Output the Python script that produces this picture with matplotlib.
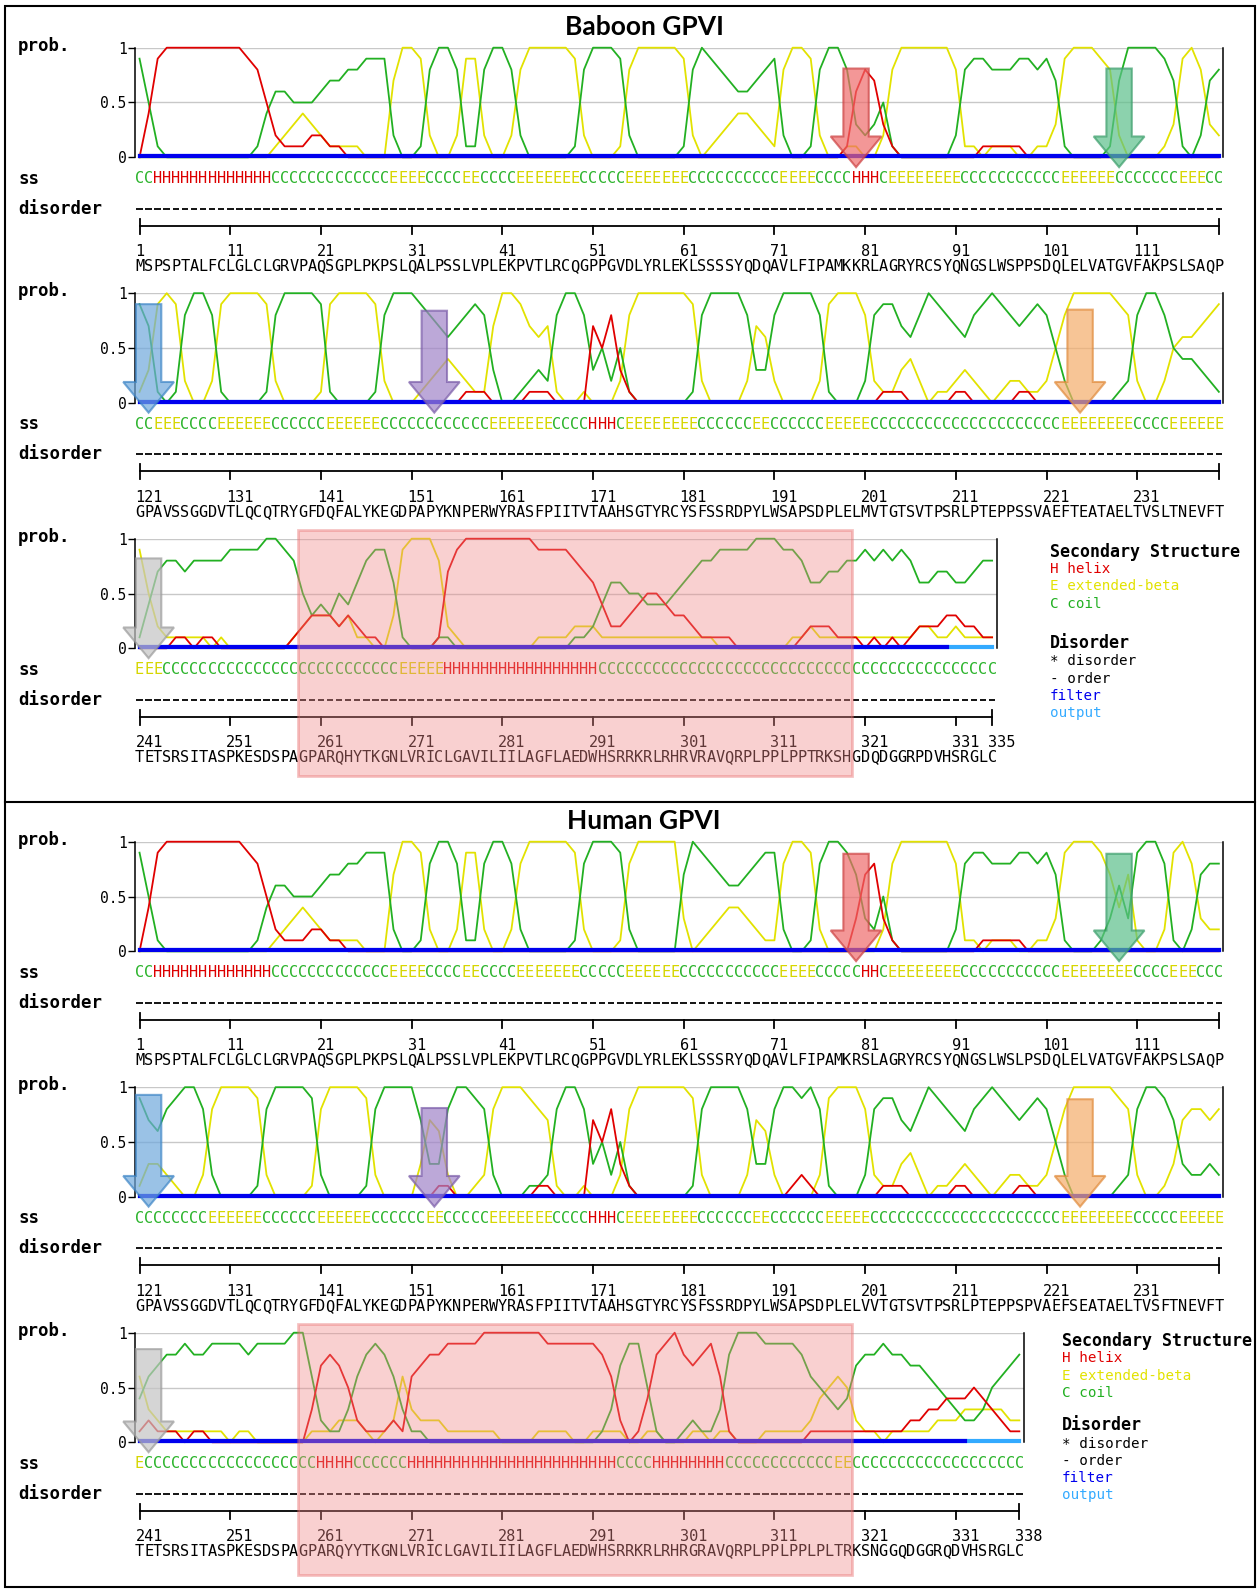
import re

import matplotlib.pyplot as plt
import numpy as np
from matplotlib import transforms
from matplotlib.collections import LineCollection
from matplotlib.patches import FancyArrow, Rectangle

W, H = 1260, 1591

# ---------------- data ----------------
row_first = [1, 121, 241]

baboon_seq = [
    "MSPSPTALFCLGLCLGRVPAQSGPLPKPSLQALPSSLVPLEKPVTLRCQGPPGVDLYRLEKLSSSSYQDQAVLFIPAMKKRLAGRYRCSYQNGSLWSPPSDQLELVATGVFAKPSLSAQP",
    "GPAVSSGGDVTLQCQTRYGFDQFALYKEGDPAPYKNPERWYRASFPIITVTAAHSGTYRCYSFSSRDPYLWSAPSDPLELMVTGTSVTPSRLPTEPPSSVAEFTEATAELTVSLTNEVFT",
    "TETSRSITASPKESDSPAGPARQHYTKGNLVRICLGAVILIILAGFLAEDWHSRRKRLRHRVRAVQRPLPPLPPTRKSHGDQDGGRPDVHSRGLC",
]
human_seq = [
    "MSPSPTALFCLGLCLGRVPAQSGPLPKPSLQALPSSLVPLEKPVTLRCQGPPGVDLYRLEKLSSSRYQDQAVLFIPAMKRSLAGRYRCSYQNGSLWSLPSDQLELVATGVFAKPSLSAQP",
    "GPAVSSGGDVTLQCQTRYGFDQFALYKEGDPAPYKNPERWYRASFPIITVTAAHSGTYRCYSFSSRDPYLWSAPSDPLELVVTGTSVTPSRLPTEPPSPVAEFSEATAELTVSFTNEVFT",
    "TETSRSITASPKESDSPAGPARQYYTKGNLVRICLGAVILIILAGFLAEDWHSRRKRLRHRGRAVQRPLPPLPPLPLTRKSNGGQDGGRQDVHSRGLC",
]

# secondary structure, run-length coded
baboon_ss = [
    "2C13H13C4E4C2E4C7E5C7E10C4E4C3H1C8E11C6E7C3E2C",
    "2C3E4C6E6C6E12C7E4C3H1C8E6C2E6C5E21C8E4C6E",
    "3E26C5E17H44C",
]
human_ss = [
    "2C13H13C4E4C2E4C7E5C6E11C4E5C2H1C8E11C8E4C3E3C",
    "8C6E6C6E6C2E5C7E4C3H1C8E6C2E6C5E21C8E5C5E",
    "1E19C4H6C23H4C8H12C2E19C",
]

# probabilities per residue in tenths (X = 1.0)
baboon_coil = [
    "9510000000 0001466555 6778899920 018XX8118X X820000018 XXX9200000 18X9876678 920018XX83 2351000000 2899888998 971000017X XXX9710278",
    "971018XX81 000018XXXX 91000018XX X987678983 0012328XX8 3525100000 018XXXX833 8XXXX81000 2899768X98 7689X98789 8520000012 8XX8544321",
    "1478878888 9999XX9853 4354689961 0001100000 0000000011 2466554445 67889999XX X998667788 9898986677 66788",
]
baboon_beta = [
    "0000000000 0000012343 211110007X X920029920 028XXXXX92 00018XXXXX 9201234432 18XX920011 0028XXXXXX 8110111001 139XXX9820 000139X832",
    "139X920029 XXXX920000 19XXXX9200 0123432117 XX97671001 00028XXXXX X920000276 2000029XXX 8211342011 2321012211 258XXXXX98 2002566789",
    "9521111101 0000000123 3323110039 XXX8210000 0000111122 2111111111 1111000000 0011211111 1111112211 21111",
]
baboon_helix = [
    "049XXXXXXX XX98521112 2110000000 0000000000 0000000000 0000000000 0000000000 0000000016 8731000000 0001111100 0000000000 0000000000",
    "0000000000 0000000000 0000000000 0000001110 0001110000 7583100000 0000000000 0000000000 0011100000 1100000110 0000000000 0000000000",
    "0000110110 0000000123 3323211000 000179XXXX XXXX999987 6422345543 3211110000 0001222111 0101012223 32211",
]
human_coil = [
    "9510000000 0001466555 6778899920 018XX8118X X820000018 XXX9200000 7X98766789 920018XX97 3251000000 2899888998 9710001363 9XX8102788",
    "97689XX820 00018XXXX9 2000018XXX X7338XX982 0001128XX8 3525100000 018XXXX833 8XX9X81000 2899768X98 7689X98789 8520000012 8XX9732232",
    "4678898899 9989999XX6 2113689863 1100000000 0000000000 0137995100 121138XXX9 9998654347 8898877654 32235678",
]
human_beta = [
    "0000000000 0000012343 211110007X X920029920 028XXXXX92 00018XXXXX 3012344321 18XX920000 0028XXXXXX 8110111001 139XXX9747 10029X8322",
    "133210028X XXX9200001 8XXXX92000 0376200128 XXX9871001 00028XXXXX X920000276 2000029XXX 8211342011 2321012211 258XXXXX98 2001378878",
    "6321111111 0110000001 1122210126 3222111111 0000111100 1111001100 0110110001 1111245652 1101111122 23333322",
]
human_helix = [
    "049XXXXXXX XX98521112 2110000000 0000000000 0000000000 0000000000 0000000000 0000000003 7831000000 0001111100 0000000000 0000000000",
    "0000000000 0000000000 0000000000 0001100000 0000110000 7583100000 0000000000 0012100000 0011100000 1100000110 0000000000 0000000000",
    "1211101100 0000000003 7875211121 67889999XX XXXXX99999 986201489X 8789610000 0000111111 1111122334 44543211",
]

# disorder curves in hundredths ("." = not drawn)
baboon_filter = [
    "1111111111 1111111111 1111111111 1111111111 1111111111 1111111111 1111111111 1111111111 1111111111 1111111111 1111111111 1111111111",
    "1111111111 1111111111 1111111111 1111111111 1111111111 1111111111 1111111111 1111111111 1111111111 1111111111 1111111111 1111111111",
    "1111111111 1111111111 1111111111 1111111111 1111111111 1111111111 1111111111 1111111111 1111111111 .....",
]
baboon_output = [
    "1111111111 1111111111 1111111111 1111111111 1111111111 1111111111 1111111111 1111111111 1111111111 1111111111 1111111111 1111111111",
    "1111111111 1111111111 1111111111 1111111111 1111111111 1111111111 1111111111 1111111111 1111111111 1111111111 1111111111 1111111111",
    "1111111111 1111111111 1111111111 1111111111 1111111111 1111111111 1111111111 1111111111 1111111111 11111",
]
human_filter = [
    "1111111111 1111111111 1111111111 1111111111 1111111111 1111111111 1111111111 1111111111 1111111111 1111111111 1111111111 1111111111",
    "1111111111 1111111111 1111111111 1111111111 1111111111 1111111111 1111111111 1111111111 1111111111 1111111111 1111111111 1111111111",
    "1111111111 1111111111 1111111111 1111111111 1111111111 1111111111 1111111111 1111111111 1111111111 11......",
]
human_output = [
    "1111111111 1111111111 1111111111 1111111111 1111111111 1111111111 1111111111 1111111111 1111111111 1111111111 1111111111 1111111111",
    "1111111111 1111111111 1111111111 1111111111 1111111111 1111111111 1111111111 1111111111 1111111111 1111111111 1111111111 1111111111",
    "1111111111 1111111111 1111111111 1111111111 1111111111 1111111111 1111111111 1111111111 1111111111 11111111",
]

# highlight arrows: (residue, top of arrow in prob units, colour key)
baboon_arrows = [
    [(80, 0.81, "red"), (109, 0.81, "green")],
    [(122, 0.90, "blue"), (153.5, 0.84, "purple"), (224.7, 0.85, "orange")],
    [(242, 0.82, "gray")],
]
human_arrows = [
    [(80, 0.89, "red"), (109, 0.89, "green")],
    [(122, 0.93, "blue"), (153.5, 0.81, "purple"), (224.7, 0.89, "orange")],
    [(242, 0.85, "gray")],
]
box_residues = (258.5, 319.6)

legend_labels = ["Secondary Structure", "H helix", "E extended-beta", "C coil",
                 "Disorder", "* disorder", "- order", "filter", "output"]

# ---------------- style ----------------
MONO = "DejaVu Sans Mono"
COIL = "#22b022"
BETA = "#e2e200"
HELIX = "#e00000"
FILTER = "#0000ee"
OUTPUT = "#33aaff"
SS_COL = {"C": "#2db42d", "E": "#d6d600", "H": "#dd0000"}
ARROW_COL = {
    "red": ("#ee6b6b", "#cc4040"),
    "green": ("#5cc08a", "#3a9d6a"),
    "blue": ("#6fa8dc", "#3d85c6"),
    "purple": ("#a083c8", "#7a5ca8"),
    "orange": ("#f5ad6a", "#e08a3a"),
    "gray": ("#c4c4c4", "#9a9a9a"),
}
legend_colors = ["black", HELIX, BETA, COIL, "black", "black", "black", FILTER, OUTPUT]
legend_bold = [True, False, False, False, True, False, False, False, False]

X0 = 135
PX = 9.07
PROB_H = 109.6
ROW_TOP = [47.7, 293.2, 538.7]


def rle(s):
    return "".join(ch * int(n) for n, ch in re.findall(r"(\d+)([HEC])", s))


def tenths(s):
    return np.array(["0123456789X".index(c) / 10 for c in s.replace(" ", "")])


def hundredths(s):
    return np.array([np.nan if c == "." else int(c) / 100 for c in s.replace(" ", "")])


fig = plt.figure(figsize=(W / 100, H / 100), dpi=100)
pix = transforms.Affine2D().scale(1 / W, -1 / H).translate(0, 1) + fig.transFigure


def draw_row(top, first, seq, ss, coil, beta, helix, filt, out, arrows, end_label):
    n = len(seq)
    for name, arr in (("ss", ss), ("coil", coil), ("beta", beta), ("helix", helix),
                      ("filter", filt), ("output", out)):
        if len(arr) != n:
            raise ValueError(f"row {first}: {name} has {len(arr)} values, expected {n}")
    res = np.arange(first, first + n)

    ax = fig.add_axes([X0 / W, 1 - (top + PROB_H) / H, n * PX / W, PROB_H / H])
    ax.set_facecolor("none")
    ty = transforms.blended_transform_factory(ax.transData, pix)

    for v in (0.5, 1):
        ax.axhline(v, color="#c8c8c8", lw=1, zorder=1)
    ax.plot(res, beta, color=BETA, lw=1.3, zorder=3, clip_on=False)
    ax.plot(res, coil, color=COIL, lw=1.3, zorder=3, clip_on=False)
    ax.plot(res, helix, color=HELIX, lw=1.3, zorder=4, clip_on=False)
    ax.plot(res, out, color=OUTPUT, lw=3, zorder=5, clip_on=False)
    ax.plot(res, filt, color=FILTER, lw=3, zorder=6, clip_on=False)

    for spine in ("top", "bottom"):
        ax.spines[spine].set_visible(False)
    ax.spines["left"].set_linewidth(1.1)
    ax.spines["right"].set_linewidth(1.1)
    ax.set_xticks([])
    ax.set_yticks([0, 0.5, 1])
    ax.set_yticklabels(["0", "0.5", "1"], family=MONO, fontsize=10.5)
    ax.tick_params(axis="y", length=5, width=1, pad=1)

    # secondary structure letters and sequence
    for x, c in zip(res, ss):
        ax.text(x, top + 131, c, transform=ty, color=SS_COL[c], ha="center",
                va="center", family=MONO, fontsize=11, clip_on=False)
    for x, c in zip(res, seq):
        ax.text(x, top + 219, c, transform=ty, color="black", ha="center",
                va="center", family=MONO, fontsize=11, clip_on=False)

    # disorder prediction (all ordered)
    segs = [[(x - 0.36, top + 161), (x + 0.36, top + 161)] for x, c in zip(res, "-" * n) if c == "-"]
    ax.add_collection(LineCollection(segs, colors="black", linewidths=1.3,
                                     transform=ty, clip_on=False), autolim=False)

    # ruler
    rul = top + 178
    last = first + n - 1
    ax.plot([first, last], [rul, rul], color="black", lw=1.3, transform=ty, clip_on=False)
    ticks = list(range(first, first + n, 10))
    for t in ticks[1:]:
        ax.plot([t, t], [rul, rul + 8], color="black", lw=1.3, transform=ty, clip_on=False)
    for t in (first, last):
        ax.plot([t, t], [rul - 7, rul + 8], color="black", lw=1.3, transform=ty, clip_on=False)
    labels = ticks + ([last] if end_label else [])
    for t in labels:
        ax.text(t - 0.45, top + 204, str(t), transform=ty, ha="left", va="center",
                family=MONO, fontsize=11, clip_on=False)

    # arrows
    for x, y_top, key in arrows:
        fc, ec = ARROW_COL[key]
        ax.add_patch(FancyArrow(x, y_top, 0, -0.09 - y_top, width=2.8, head_width=5.6,
                                head_length=0.28, length_includes_head=True, fc=fc,
                                ec=ec, lw=1.5, alpha=0.7, zorder=8, clip_on=False))

    ax.set_xlim(first - 0.5, first + n - 0.5)
    ax.set_ylim(0, 1)
    return ax, ty


def draw_panel(dy, title, seqs, sss, coils, betas, helices, filts, outs, arrows,
               box_y, legend_x, legend_y):
    fig.text(644, 27.4 + dy, title, transform=pix, ha="center", va="center",
             family=["Lato", "DejaVu Sans"], fontweight="bold", fontsize=19)
    for r in range(3):
        top = ROW_TOP[r] + dy
        fig.text(18, top - 2, "prob.", transform=pix, va="center", family=MONO,
                 fontweight="bold", fontsize=12.5)
        fig.text(18, top + 131, "ss", transform=pix, va="center", family=MONO,
                 fontweight="bold", fontsize=12.5)
        fig.text(18, top + 161, "disorder", transform=pix, va="center", family=MONO,
                 fontweight="bold", fontsize=12.5)
        ax, ty = draw_row(top, row_first[r], seqs[r], rle(sss[r]), tenths(coils[r]),
                          tenths(betas[r]), tenths(helices[r]), hundredths(filts[r]),
                          hundredths(outs[r]), arrows[r], r == 2)
    # highlighted region on the last row
    x0, x1 = box_residues
    ax.add_patch(Rectangle((x0, box_y[0]), x1 - x0, box_y[1] - box_y[0], transform=ty,
                           fc="#f08a8a", ec="#e86a6a", lw=2, alpha=0.4, zorder=9,
                           clip_on=False))
    for label, col, bold, y in zip(legend_labels, legend_colors, legend_bold, legend_y):
        fig.text(legend_x, y, label, transform=pix, va="center", color=col, family=MONO,
                 fontweight="bold" if bold else "normal", fontsize=12 if bold else 10.3)


draw_panel(0, "Baboon GPVI", baboon_seq, baboon_ss, baboon_coil, baboon_beta,
           baboon_helix, baboon_filter, baboon_output, baboon_arrows,
           (530, 776), 1050, [552, 569, 586, 604, 643, 661, 679, 696, 713])
draw_panel(794, "Human GPVI", human_seq, human_ss, human_coil, human_beta,
           human_helix, human_filter, human_output, human_arrows,
           (1324, 1575), 1062, [1341, 1358, 1376, 1393, 1425, 1444, 1461, 1478, 1495])

# frames around the two panels
fig.add_artist(Rectangle((5, 6), 1250, 1581, transform=pix, fill=False, ec="black", lw=1.5))
fig.add_artist(plt.Line2D([5, 1255], [802, 802], transform=pix, color="black", lw=1.5))

fig.savefig("out.png", dpi=100)
